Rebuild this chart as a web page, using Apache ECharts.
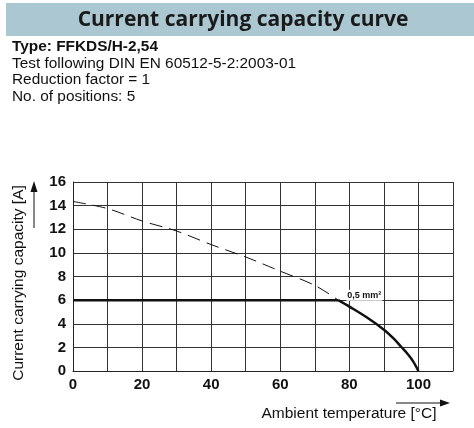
<!DOCTYPE html>
<html>
<head>
<meta charset="utf-8">
<script src="https://cdn.jsdelivr.net/npm/echarts@6/dist/echarts.min.js"></script>
<style>
  html, body { margin: 0; padding: 0; background: #fff; }
  #chart { width: 474px; height: 428px; }
</style>
</head>
<body>
<div id="chart"></div>
<script>
// Temperature / current pairs for the derating curve of the 0,5 mm² conductor
const deratingDashed = [
  [0, 14.35], [10, 13.75], [20, 12.7], [30, 11.85], [40, 10.7],
  [50, 9.65], [60, 8.45], [70, 7.25], [76.8, 6.0]
];
const ratedFlat = [[0, 6], [76.8, 6]];
const deratingSolid = [
  [76.8, 6.0], [80, 5.45], [85, 4.55], [90, 3.5], [93, 2.7],
  [95, 2.05], [97, 1.4], [98.5, 0.8], [100, 0]
];
const xTicks = [0, 20, 40, 60, 80, 100];
const headerLines = [
  'Type: FFKDS/H-2,54',
  'Test following DIN EN 60512-5-2:2003-01',
  'Reduction factor = 1',
  'No. of positions: 5'
];
const curveLabel = '0,5 mm²';

const FONT = '"Liberation Sans", Arial, sans-serif';
const chart = echarts.init(document.getElementById('chart'));

const headerText = headerLines.map((t, i) => ({
  type: 'text',
  x: 12,
  y: 47 + i * 16.6,
  style: {
    text: t,
    font: (i === 0 ? 'bold ' : '') + '15.4px ' + FONT,
    fill: '#111', verticalAlign: 'middle'
  }
}));

chart.setOption({
  animation: false,
  grid: {
    left: 73, right: 21, top: 182, bottom: 57,
    containLabel: false, outerBoundsMode: 'none'
  },
  xAxis: {
    type: 'value', min: 0, max: 110, interval: 10,
    axisLine: { show: true, lineStyle: { color: '#222', width: 1 } },
    axisTick: { show: false },
    splitLine: { show: true, lineStyle: { color: '#333', width: 1 } },
    axisLabel: {
      margin: 6,
      color: '#111',
      fontFamily: FONT,
      fontWeight: 'bold', fontSize: 15,
      showMaxLabel: false,
      formatter: v => xTicks.includes(v) ? String(v) : ''
    }
  },
  yAxis: {
    type: 'value', min: 0, max: 16, interval: 2,
    axisLine: { show: true, lineStyle: { color: '#222', width: 1 } },
    axisTick: { show: false },
    splitLine: { show: true, lineStyle: { color: '#333', width: 1 } },
    axisLabel: {
      margin: 7,
      color: '#111',
      fontFamily: FONT,
      fontWeight: 'bold', fontSize: 15
    }
  },
  series: [
    {
      type: 'line', data: deratingDashed, smooth: 0.3,
      symbol: 'none', lineStyle: { color: '#111', width: 1, type: [13, 7] }
    },
    {
      type: 'line', data: ratedFlat, symbol: 'none',
      lineStyle: { color: '#111', width: 2.5 }
    },
    {
      type: 'line', data: deratingSolid, smooth: 0.3, symbol: 'none',
      lineStyle: { color: '#111', width: 2.5 },
      markPoint: {
        symbol: 'circle', symbolSize: 0,
        data: [{
          coord: deratingSolid[0],
          label: {
            show: true, position: 'right', offset: [3, -5],
            formatter: curveLabel,
            fontFamily: FONT, fontWeight: 'bold', fontSize: 9, color: '#111',
            backgroundColor: '#fff', padding: [1, 1]
          }
        }]
      }
    }
  ],
  graphic: [
    { type: 'rect', shape: { x: 6, y: 3, width: 468, height: 33 }, style: { fill: '#aac7d2' } },
    {
      type: 'text', x: 243, y: 20,
      style: {
        text: 'Current carrying capacity curve',
        font: 'bold 21px "Open Sans", Lato, sans-serif',
        fill: '#1a1a1a', align: 'center', verticalAlign: 'middle'
      }
    },
    ...headerText,
    {
      type: 'text', x: 19, y: 283, rotation: Math.PI / 2,
      style: {
        text: 'Current carrying capacity [A]',
        font: '15.5px ' + FONT,
        fill: '#111', align: 'center', verticalAlign: 'middle'
      }
    },
    {
      type: 'text', x: 349, y: 414,
      style: {
        text: 'Ambient temperature [°C]',
        font: '15.5px ' + FONT,
        fill: '#111', align: 'center', verticalAlign: 'middle'
      }
    },
    // axis direction arrows
    { type: 'line', shape: { x1: 396, y1: 403, x2: 442, y2: 403 }, style: { stroke: '#111', lineWidth: 1 } },
    { type: 'polygon', shape: { points: [[450, 403], [440, 399.5], [440, 406.5]] }, style: { fill: '#111' } },
    { type: 'line', shape: { x1: 34, y1: 228, x2: 34, y2: 190 }, style: { stroke: '#111', lineWidth: 1 } },
    { type: 'polygon', shape: { points: [[34, 181], [30.5, 192], [37.5, 192]] }, style: { fill: '#111' } }
  ]
});
</script>
</body>
</html>
